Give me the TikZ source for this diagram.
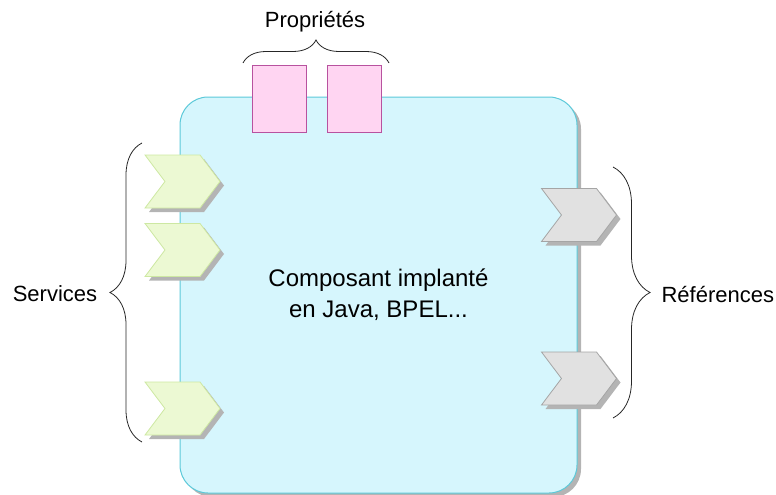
\documentclass[tikz,border=0pt]{standalone}
\usepackage{fontspec}
\setmainfont{Liberation Sans}
\usetikzlibrary{shapes.symbols}
\usetikzlibrary{shadows}
\usetikzlibrary{decorations.pathreplacing}
\definecolor{compfill}{HTML}{D6F6FD}
\definecolor{compline}{HTML}{5CC9D9}
\definecolor{shadowgray}{HTML}{B4B4B4}
\definecolor{servfill}{HTML}{ECF9D3}
\definecolor{servline}{HTML}{CDE8A2}
\definecolor{reffill}{HTML}{E1E1E1}
\definecolor{refline}{HTML}{A5A5A5}
\definecolor{propfill}{HTML}{FFD5F2}
\definecolor{propline}{HTML}{B8529F}

\begin{document}
\begin{tikzpicture}[x=1pt,y=-1pt,
  shade/.style={drop shadow={shadow xshift=4pt,shadow yshift=-4pt,opacity=1,fill=shadowgray}},
  comp/.style={draw=compline,fill=compfill,line width=1pt,rounded corners=28pt,minimum width=397pt,minimum height=396pt,align=center,font=\fontsize{24}{31}\selectfont,shade},
  port/.style={signal,signal from=west,signal to=east,signal pointer angle=106,minimum width=75pt,minimum height=53pt,inner sep=0pt,line width=0.8pt,shade},
  serv/.style={port,draw=servline,fill=servfill},
  ref/.style={port,draw=refline,fill=reffill},
  prop/.style={draw=propline,fill=propfill,line width=0.8pt,minimum width=54pt,minimum height=67pt,inner sep=0pt},
  lbl/.style={font=\fontsize{22}{26}\selectfont},
  brc/.style={decorate,line width=0.8pt,draw=black!85}]
\useasboundingbox (0,0) rectangle (776,495);

\node[comp](comp) at (378.5,295) {Composant implant\'e\\en Java, BPEL...};

\node[serv](s1) at (182.5,181.5) {};
\node[serv](s2) at (182.5,250) {};
\node[serv](s3) at (182.5,408.5) {};

\node[ref](r1) at (579,215) {};
\node[ref](r2) at (579,378.5) {};

\node[prop](p1) at (279,98.5) {};
\node[prop](p2) at (354.5,98.5) {};

% accolades
\coordinate (sb) at (142,442);
\coordinate (st) at (142,143);
\coordinate (rt) at (613,167);
\coordinate (rb) at (613,418);
\coordinate (pl) at (243,63);
\coordinate (pr) at (389,63);

\draw[brc,decoration={brace,amplitude=32pt}] (sb) -- (st);
\draw[brc,decoration={brace,amplitude=37pt}] (rt) -- (rb);
\draw[brc,decoration={brace,amplitude=23pt}] (pl) -- (pr);

\node[lbl](services) at (55,294) {Services};
\node[lbl,anchor=west](refs) at (658,295) {R\'ef\'erences};
\node[lbl](props) at (315,22) {Propri\'et\'es};
\end{tikzpicture}
\end{document}
